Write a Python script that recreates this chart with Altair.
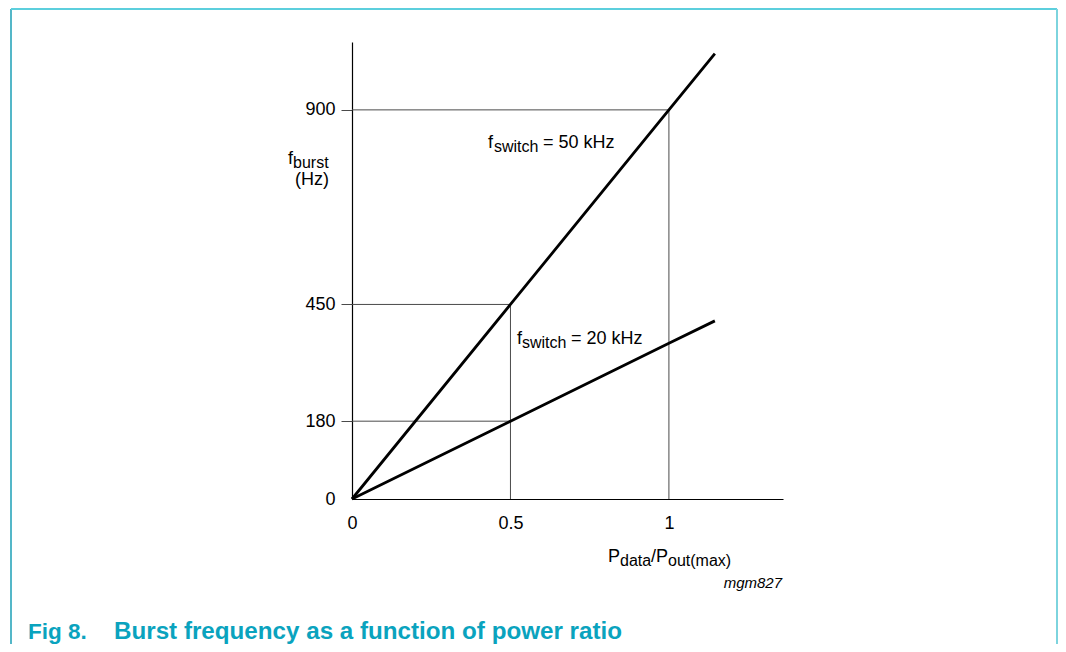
import altair as alt
import pandas as pd

# ---- data ----
ratio = [0, 0.5, 1.0, 1.145]
f_50k = [0, 450, 900, 1030]
f_20k = [0, 180, 360, 412]

y_ticks = [0, 180, 450, 900]
x_ticks = [0, 0.5, 1]

# reference (guide) lines: start/end points in data units
guide_x = [0, 0, 0, 0.5, 1]
guide_x2 = [1, 0.5, 0.5, 0.5, 1]
guide_y = [900, 450, 180, 0, 0]
guide_y2 = [900, 450, 180, 450, 900]

FONT = "Liberation Sans"
TEAL = "#0aa3be"

lines_df = pd.DataFrame({
    "ratio": ratio * 2,
    "f": f_50k + f_20k,
    "series": ["50 kHz"] * len(ratio) + ["20 kHz"] * len(ratio),
})
guide_df = pd.DataFrame({"x": guide_x, "x2": guide_x2, "y": guide_y, "y2": guide_y2})

xs = alt.Scale(domain=[0, 1.36], nice=False, zero=False)
ys = alt.Scale(domain=[0, 1057], nice=False, zero=False)

x_axis = alt.Axis(values=x_ticks, ticks=False, tickSize=0, grid=False, title=None,
                  format="~g", labelFlush=False,
                  domainColor="black", domainWidth=1.2, labelFont=FONT,
                  labelFontSize=18, labelColor="black", labelPadding=15)
y_axis = alt.Axis(values=y_ticks, tickSize=11, tickColor="#4a4a4a", tickWidth=1,
                  tickOpacity={"condition": {"test": "datum.value === 0", "value": 0}, "value": 1},
                  grid=False, title=None, domainColor="black", domainWidth=1.2, labelFlush=False,
                  labelFont=FONT, labelFontSize=18, labelColor="black", labelPadding=6)

W, H = 431, 457

guides = alt.Chart(guide_df).mark_rule(color="#4a4a4a", strokeWidth=1).encode(
    x=alt.X("x:Q", scale=xs, axis=x_axis),
    x2="x2:Q",
    y=alt.Y("y:Q", scale=ys, axis=y_axis),
    y2="y2:Q",
)

lines = alt.Chart(lines_df).mark_line(color="black", strokeWidth=2.8).encode(
    x=alt.X("ratio:Q", scale=xs, axis=x_axis),
    y=alt.Y("f:Q", scale=ys, axis=y_axis),
    detail="series:N",
)

one = alt.Data(values=[{}])


def txt(s, px, py, size=18, align="left", **kw):
    return alt.Chart(one).mark_text(
        text=s, font=FONT, fontSize=size, align=align, baseline="alphabetic",
        color=kw.pop("color", "black"), **kw
    ).encode(x=alt.value(px), y=alt.value(py))


# plot origin is at page (352, 42)
texts = [
    # y axis title
    txt("f", -64, 122),
    txt("burst", -59, 126, 16),
    txt("(Hz)", -57, 143),
    # 50 kHz label
    txt("f", 136, 106),
    txt("switch", 142, 110, 16),
    txt("= 50 kHz", 191, 106),
    # 20 kHz label
    txt("f", 165, 302),
    txt("switch", 170, 306, 16),
    txt("= 20 kHz", 219, 302),
    # x axis title
    txt("P", 256, 520),
    txt("data", 268, 524, 16),
    txt("/P", 299, 520),
    txt("out(max)", 316, 524, 16),
    # figure code
    txt("mgm827", 430, 546, 15, align="right", fontStyle="italic"),
    # caption
    txt("Fig 8.", -324, 597, 22.5, color=TEAL, fontWeight="bold"),
    txt("Burst frequency as a function of power ratio", -238, 597, 24.2, color=TEAL, fontWeight="bold"),
]

frame_left = alt.Chart(one).mark_rule(color="#1b9fb6", strokeWidth=1.5).encode(
    x=alt.value(-341), y=alt.value(-33), y2=alt.value(700))
frame_top = alt.Chart(one).mark_rule(color="#5ccfdd", strokeWidth=2).encode(
    x=alt.value(-341), x2=alt.value(705), y=alt.value(-33))
frame_right = alt.Chart(one).mark_rule(color="#7dd4de", strokeWidth=2).encode(
    x=alt.value(705), y=alt.value(-33), y2=alt.value(700))

chart = alt.layer(
    frame_left, frame_top, frame_right, guides, lines, *texts
).properties(
    width=W, height=H,
    autosize=alt.AutoSizeParams(type="none"),
    padding={"left": 344, "top": 34, "right": 275, "bottom": 145},
    background="white",
).configure_view(stroke=None)

chart.save("out.html", embed_options={"renderer": "svg", "actions": False})
